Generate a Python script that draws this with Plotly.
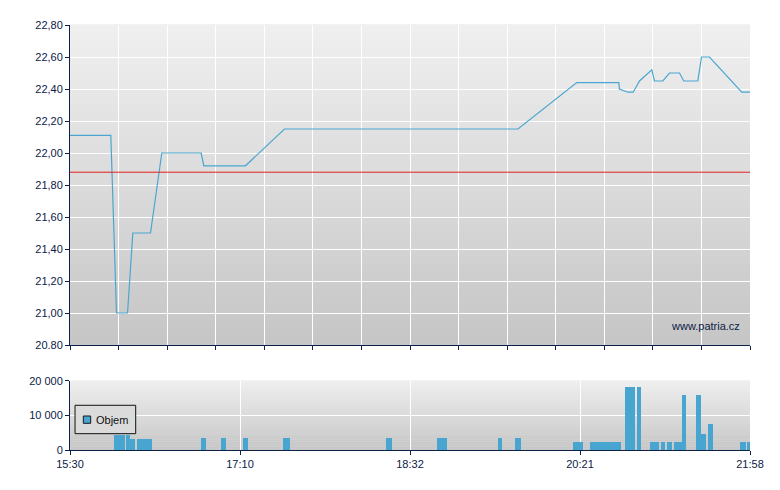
import plotly.graph_objects as go
from plotly.subplots import make_subplots

# x positions are in % of the trading session (the axis is not linear in clock time)
price_x = [0, 6.0, 6.84, 8.46, 9.24, 11.84, 13.5, 19.29, 19.68, 25.81, 31.54, 65.88,
           74.53, 80.71, 80.8, 82.03, 82.82, 83.75, 85.56, 85.96, 87.18, 88.16,
           89.63, 90.26, 92.32, 92.87, 94.04, 98.79, 100]
price_y = [22.11, 22.11, 21.00, 21.00, 21.50, 21.50, 22.00, 22.00, 21.92, 21.92, 22.15, 22.15,
           22.44, 22.44, 22.40, 22.38, 22.38, 22.45, 22.52, 22.45, 22.45, 22.50,
           22.50, 22.45, 22.45, 22.60, 22.60, 22.38, 22.38]
prev_close = 21.88

vol_start = [6.54, 8.25, 8.85, 9.88, 19.29, 22.24, 25.47, 31.25, 46.50, 54.04, 62.87, 65.51,
             74.04, 76.40, 81.69, 83.31, 85.22, 86.84, 87.72, 88.75, 89.93, 91.99, 92.72,
             93.75, 98.60, 99.63]
vol_end = [8.12, 8.85, 9.63, 12.09, 20.03, 22.97, 26.21, 32.28, 47.28, 55.37, 63.60, 66.25,
           75.37, 81.10, 83.16, 84.04, 86.69, 87.57, 88.46, 89.93, 90.66, 92.72, 93.46,
           94.49, 99.34, 100]
vol_values = [4300, 4300, 3200, 3200, 3500, 3500, 3500, 3500, 3500, 3500, 3500, 3500,
              2300, 2300, 18200, 18200, 2300, 2300, 2300, 2300, 15900, 15900, 4600,
              7500, 2300, 2300]

time_ticks = [0, 25, 50, 75, 100]
time_labels = ['15:30', '17:10', '18:32', '20:21', '21:58']
price_ticks = [20.8, 21.0, 21.2, 21.4, 21.6, 21.8, 22.0, 22.2, 22.4, 22.6, 22.8]
price_labels = ['20.80'] + [f'{v:.2f}'.replace('.', ',') for v in price_ticks[1:]]
vol_ticks = [0, 10000, 20000]
vol_labels = ['0', '10 000', '20 000']

NAVY = '#0c2147'
LINE_BLUE = '#4aa6d0'
BAR_BLUE = '#47a5cf'
FONT = 'Liberation Sans'

fig = make_subplots(rows=2, cols=1, row_heights=[0.753, 0.163], vertical_spacing=0.084)

fig.add_trace(go.Scatter(x=price_x, y=price_y, mode='lines',
                         line=dict(color=LINE_BLUE, width=1.2),
                         showlegend=False, hoverinfo='skip'), row=1, col=1)

centers = [(a + b) / 2 for a, b in zip(vol_start, vol_end)]
widths = [b - a for a, b in zip(vol_start, vol_end)]
fig.add_trace(go.Bar(x=centers, y=vol_values, width=widths, name='Objem',
                     marker=dict(color=BAR_BLUE, line=dict(width=0)),
                     showlegend=False), row=2, col=1)

# vertical gradient background, drawn as thin bands below the grid
shapes = []
n = 40
top_c, bot_c = (239, 239, 239), (198, 198, 198)
for xr, yr in [('x domain', 'y domain'), ('x2 domain', 'y2 domain')]:
    for i in range(n):
        t = i / (n - 1)
        c = tuple(round(bot_c[k] + (top_c[k] - bot_c[k]) * t) for k in range(3))
        shapes.append(dict(type='rect', xref=xr, yref=yr, x0=0, x1=1,
                           y0=i / n, y1=(i + 1) / n + 0.002, layer='below',
                           line=dict(width=0), fillcolor=f'rgb{c}'))
shapes.append(dict(type='line', xref='x domain', yref='y', x0=0, x1=1,
                   y0=prev_close, y1=prev_close, line=dict(color='#e02020', width=1)))

# small framed legend box in the volume panel
shapes.append(dict(type='rect', xref='paper', yref='paper', x0=0.0074, x1=0.0966,
                   y0=0.0384, y1=0.1052, fillcolor='#dbdbdb',
                   line=dict(color='#111111', width=1)))
shapes.append(dict(type='rect', xref='paper', yref='paper', x0=0.0196, x1=0.0304,
                   y0=0.0628, y1=0.080, fillcolor=BAR_BLUE,
                   line=dict(color='#1a1a1a', width=1)))

# the page body adds an 8px offset, so the figure is kept 8px smaller
fig.update_layout(
    width=772, height=482,
    margin=dict(l=62, r=30, t=17, b=40),
    paper_bgcolor='white', plot_bgcolor='#dddddd',
    font=dict(family=FONT, size=11, color=NAVY),
    shapes=shapes,
    bargap=0,
    showlegend=False,
    annotations=[
        dict(text='www.patria.cz', xref='x domain', yref='y domain',
             x=0.988, y=0.035, xanchor='right', yanchor='bottom',
             showarrow=False, font=dict(size=11, color=NAVY)),
        dict(text='Objem', xref='paper', yref='paper', x=0.0355, y=0.0715,
             xanchor='left', yanchor='middle', showarrow=False,
             font=dict(size=11, color='#111111')),
    ],
)

fig.update_xaxes(range=[0, 100], showgrid=True, gridcolor='white', gridwidth=1,
                 zeroline=False, showline=True, linecolor=NAVY, linewidth=1,
                 ticks='outside', ticklen=4, tickcolor=NAVY, automargin=False)
fig.update_xaxes(tickmode='array', tickvals=[i * 100 / 14 for i in range(15)],
                 showticklabels=False, row=1, col=1)
fig.update_xaxes(tickmode='array', tickvals=time_ticks, ticktext=time_labels, row=2, col=1)

fig.update_yaxes(showgrid=True, gridcolor='white', gridwidth=1, zeroline=False,
                 showline=True, linecolor=NAVY, linewidth=1,
                 ticks='outside', ticklen=4, tickcolor=NAVY, automargin=False)
fig.update_yaxes(range=[20.8, 22.8], tickmode='array', tickvals=price_ticks,
                 ticktext=price_labels, row=1, col=1)
fig.update_yaxes(range=[0, 20000], tickmode='array', tickvals=vol_ticks,
                 ticktext=vol_labels, row=2, col=1)

fig.write_html('out.html')
